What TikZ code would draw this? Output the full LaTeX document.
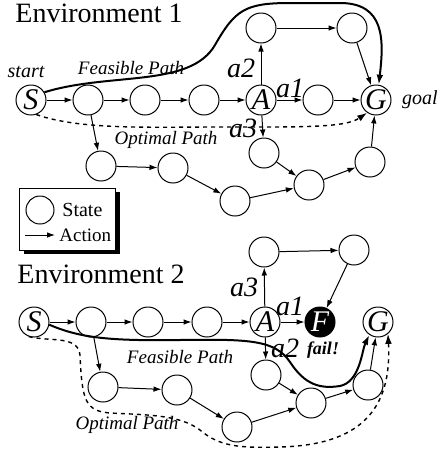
\documentclass[tikz,border=0pt]{standalone}
\usepackage{fontspec}
\setmainfont{Liberation Serif}
\usetikzlibrary{arrows.meta}
\begin{document}
\begin{tikzpicture}[x=0.5pt,y=-0.5pt,
 st/.style={circle,draw,line width=0.5pt,minimum size=15pt,inner sep=0pt,font=\fontsize{15}{15}\selectfont\itshape},
 fl/.style={st,fill=black,text=white},
 act/.style={draw,line width=0.5pt,-{Latex[length=4pt,width=2.8pt]}},
 feas/.style={draw,line width=1pt,-{Latex[length=5pt,width=3.4pt]}},
 opt/.style={draw,line width=0.7pt,dash pattern=on 2pt off 2pt,-{Latex[length=5pt,width=3.4pt]}},
 alab/.style={font=\fontsize{14}{14}\selectfont\itshape,anchor=base,inner sep=0pt},
 plab/.style={font=\fontsize{9.5}{9.5}\selectfont\itshape,inner sep=0pt},
 slab/.style={font=\fontsize{10}{10}\selectfont\itshape,inner sep=0pt},
 title/.style={font=\fontsize{14}{14}\selectfont,anchor=base west,inner sep=0pt},
 leg/.style={font=\fontsize{10}{10}\selectfont,inner sep=0pt,anchor=west}]
\useasboundingbox (0,0) rectangle (440,456);

% ---------------- Environment 1 ----------------
\node[title] (t1) at (15,22.5) {Environment 1};
\node[st] (S1) at (31,100) {S};
\node[st] (n11) at (88,100) {};
\node[st] (n12) at (145,100) {};
\node[st] (n13) at (204,100) {};
\node[st] (A1) at (261,100) {A};
\node[st] (n14) at (318,100) {};
\node[st] (G1) at (376,100) {G};
\node[st] (u11) at (261,28) {};
\node[st] (u12) at (352,28) {};
\node[st] (c1) at (264,153) {};
\node[st] (b11) at (101,166) {};
\node[st] (b12) at (173,168) {};
\node[st] (b13) at (235,201) {};
\node[st] (d1) at (309,185) {};
\node[st] (e1) at (370,162) {};

\path[act] (S1) -- (n11);
\path[act] (n11) -- (n12);
\path[act] (n12) -- (n13);
\path[act] (n13) -- (A1);
\path[act] (A1) -- (n14);
\path[act] (n14) -- (G1);
\path[act] (A1) -- (u11);
\path[act] (u11) -- (u12);
\path[act] (u12) -- (G1);
\path[act] (A1) -- (c1);
\path[act] (c1) -- (d1);
\path[act] (n11) -- (b11);
\path[act] (b11) -- (b12);
\path[act] (b12) -- (b13);
\path[act] (b13) -- (d1);
\path[act] (d1) -- (e1);
\path[act] (e1) -- (G1);

\path[feas] (S1.30) .. controls (110,72) and (190,88) .. (215,45)
  .. controls (235,10) and (245,3) .. (290,3) -- (340,3)
  .. controls (385,3) and (384,40) .. (G1.80);
\path[opt] (S1.-70) .. controls (80,130) and (150,127) .. (220,127)
  .. controls (300,127) and (345,128) .. (G1.235);

\node[slab] (start1) at (26,72) {start};
\node[slab] (goal1) at (420,100) {goal};
\node[plab] (fp1) at (131,68) {Feasible Path};
\node[plab] (op1) at (166,140) {Optimal Path};
\node[alab] (a21) at (241,77) {a2};
\node[alab] (a11) at (290,97) {a1};
\node[alab] (a31) at (243,137) {a3};

% ---------------- Legend ----------------
\fill (24,192) rectangle (120,254);
\node[draw,fill=white,line width=0.5pt,minimum width=48pt,minimum height=31pt,inner sep=0pt] (box) at (67,219) {};
\node[circle,draw,line width=0.5pt,minimum size=14pt,inner sep=0pt] (lc) at (40,210) {};
\node[leg] (lst) at (62,210) {State};
\coordinate (la) at (25,235);
\coordinate (lb) at (55,235);
\path[act] (la) -- (lb);
\node[leg,font=\fontsize{9.5}{9.5}\selectfont] (lac) at (59,235) {Action};

% ---------------- Environment 2 ----------------
\node[title] (t2) at (17,283) {Environment 2};
\node[st] (S2) at (34,322) {S};
\node[st] (n21) at (91,322) {};
\node[st] (n22) at (148,322) {};
\node[st] (n23) at (207,322) {};
\node[st] (A2) at (265,322) {A};
\node[fl] (F2) at (320,322) {F};
\node[st] (G2) at (378,322) {G};
\node[st] (u21) at (264,252) {};
\node[st] (u22) at (354,250) {};
\node[st] (c2) at (266,375) {};
\node[st] (b21) at (103,387) {};
\node[st] (b22) at (177,390) {};
\node[st] (b23) at (237,427) {};
\node[st] (d2) at (311,403) {};
\node[st] (e2) at (368,385) {};

\path[act] (S2) -- (n21);
\path[act] (n21) -- (n22);
\path[act] (n22) -- (n23);
\path[act] (n23) -- (A2);
\path[act] (A2) -- (F2);
\path[act] (A2) -- (u21);
\path[act] (u21) -- (u22);
\path[act] (u22) -- (F2);
\path[act] (A2) -- (c2);
\path[act] (c2) -- (d2);
\path[act] (n21) -- (b21);
\path[act] (b21) -- (b22);
\path[act] (b22) -- (b23);
\path[act] (b23) -- (d2);
\path[act] (d2) -- (e2);
\path[act] (e2) -- (G2);

\path[feas] (S2.-10) .. controls (80,338) and (110,341) .. (180,340)
  .. controls (250,339) and (275,340) .. (290,362)
  .. controls (305,385) and (320,389) .. (340,386)
  .. controls (360,382) and (362,350) .. (G2.236);
\path[opt] (S2.-110) .. controls (50,342) and (78,335) .. (80,355)
  .. controls (82,400) and (85,411) .. (110,413)
  .. controls (150,415) and (180,415) .. (200,430)
  .. controls (220,447) and (240,448) .. (280,447)
  .. controls (360,445) and (392,410) .. (G2.-50);

\node[plab] (fp2) at (180,357) {Feasible Path};
\node[plab] (op2) at (127,425) {Optimal Path};
\node[alab] (a32) at (244,296) {a3};
\node[alab] (a12) at (290,315) {a1};
\node[alab] (a22) at (285,357) {a2};
\node[alab,font=\fontsize{9}{9}\selectfont\bfseries\itshape] (fail) at (323,354) {fail!};
\end{tikzpicture}
\end{document}
